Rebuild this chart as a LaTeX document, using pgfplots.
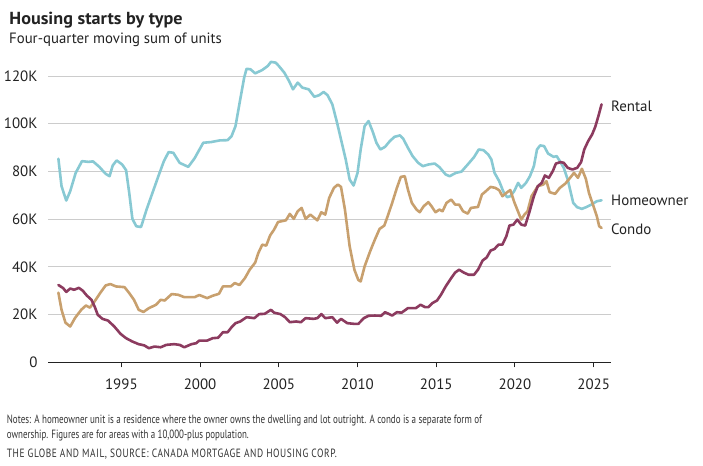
\documentclass[border=0pt]{standalone}
\usepackage{fontspec}
\setmainfont{PT Sans}
\usepackage{graphicx}
\usepackage{pgfplots}
\pgfplotsset{compat=1.18}
\definecolor{homec}{HTML}{88C9D3}
\definecolor{condoc}{HTML}{C8A06E}
\definecolor{rentc}{HTML}{8C3B5F}
\definecolor{txt}{HTML}{222222}
\definecolor{note}{HTML}{333333}
\definecolor{gridc}{HTML}{CCCCCC}
\begin{document}
\begin{tikzpicture}[x=1bp,y=1bp]
\path[use as bounding box] (0,0) rectangle (703,466);
\begin{axis}[
  at={(48bp,103.7bp)}, anchor=south west,
  scale only axis, width=563bp, height=305.4bp,
  xmin=1990.34, xmax=2026.1, ymin=0, ymax=128,
  axis x line=bottom, axis y line=left,
  y axis line style={draw=none},
  x axis line style={-, draw=txt, line width=1.1bp},
  xtick={1995,2000,2005,2010,2015,2020,2025},
  xticklabels={1995,2000,2005,2010,2015,2020,2025},
  ytick={0,20,40,60,80,100,120},
  yticklabels={0,20K,40K,60K,80K,100K,120K},
  ymajorgrids, major grid style={gridc, line width=0.9bp},
  ytick style={draw=none},
  xtick style={draw=txt, line width=1bp},
  tick align=outside, major tick length=5bp,
  ticklabel style={font=\fontsize{15}{18}\selectfont, text=txt},
  yticklabel style={anchor=east, inner sep=0pt, xshift=-5.3bp},
  xticklabel style={anchor=north, inner sep=0pt, yshift=-11bp},
  clip=false,
  every axis plot/.append style={line width=2.6bp, line join=round, line cap=round, no marks},
]
\addplot[homec] coordinates {
(1991.0,85.3) (1991.2,73.8) (1991.5,67.8) (1991.75,71.7) (1992.1,79.4) (1992.5,84.3) (1992.9,84.0) (1993.2,84.2) (1993.6,81.9) (1994.0,79.0) (1994.25,78.0) (1994.45,82.5) (1994.7,84.6) (1995.05,82.9) (1995.3,80.5) (1995.5,71.0) (1995.7,60.1) (1995.95,57.0) (1996.25,56.7) (1996.6,64.0) (1996.9,69.6) (1997.35,78.0) (1997.7,84.3) (1998.0,88.1) (1998.3,87.8) (1998.7,83.6) (1999.25,81.9) (1999.65,85.5) (2000.2,92.0) (2000.7,92.3) (2001.25,93.0) (2001.75,93.1) (2002.0,94.8) (2002.25,99.0) (2002.55,110.2) (2002.8,119.3) (2002.95,123.0) (2003.2,122.8) (2003.5,121.1) (2003.95,122.5) (2004.3,124.2) (2004.5,125.9) (2004.8,125.6) (2005.0,124.2) (2005.35,121.4) (2005.65,117.9) (2005.9,114.4) (2006.2,117.2) (2006.5,115.1) (2006.9,114.4) (2007.25,111.3) (2007.55,111.9) (2007.85,113.3) (2008.1,111.9) (2008.4,108.1) (2008.7,100.4) (2009.05,90.6) (2009.25,85.0) (2009.5,76.6) (2009.75,74.1) (2010.0,79.4) (2010.2,89.2) (2010.45,99.0) (2010.7,101.1) (2010.95,96.9) (2011.2,92.0) (2011.45,89.2) (2011.75,90.3) (2012.05,92.7) (2012.35,94.5) (2012.7,95.1) (2012.9,93.7) (2013.2,89.9) (2013.5,86.4) (2013.85,83.6) (2014.15,82.2) (2014.5,82.9) (2014.9,83.3) (2015.2,81.8) (2015.6,78.7) (2015.85,78.0) (2016.25,79.4) (2016.6,79.9) (2017.0,82.9) (2017.4,86.0) (2017.7,89.2) (2018.0,88.9) (2018.3,87.1) (2018.5,85.0) (2018.7,79.4) (2019.0,75.9) (2019.25,71.7) (2019.5,69.2) (2019.7,69.6) (2019.95,71.7) (2020.2,75.2) (2020.4,73.1) (2020.7,75.2) (2020.95,78.0) (2021.2,82.2) (2021.4,89.2) (2021.6,90.9) (2021.85,90.6) (2022.1,87.5) (2022.45,86.1) (2022.65,86.4) (2022.85,84.3) (2023.1,81.5) (2023.35,76.6) (2023.55,71.0) (2023.7,66.8) (2023.95,65.0) (2024.25,64.3) (2024.55,65.1) (2024.85,66.1) (2025.2,67.5) (2025.5,67.9)
};
\addplot[condoc] coordinates {
(1991.0,29.2) (1991.2,22.0) (1991.45,16.6) (1991.75,15.0) (1992.05,18.5) (1992.45,22.0) (1992.75,23.8) (1993.0,22.9) (1993.3,25.5) (1993.65,29.0) (1994.0,32.2) (1994.3,32.8) (1994.65,31.8) (1995.2,31.5) (1995.5,29.0) (1995.8,26.2) (1996.1,22.0) (1996.4,21.1) (1996.75,22.7) (1997.2,24.1) (1997.5,26.2) (1997.75,25.9) (1998.2,28.6) (1998.6,28.3) (1999.0,27.3) (1999.65,27.3) (1999.95,28.2) (2000.45,26.9) (2000.8,27.9) (2001.2,28.7) (2001.45,31.8) (2001.95,31.8) (2002.2,33.2) (2002.5,32.4) (2002.85,35.3) (2003.15,38.8) (2003.5,41.8) (2003.7,45.8) (2003.95,49.3) (2004.2,48.9) (2004.45,53.2) (2004.7,55.6) (2004.95,58.8) (2005.45,59.5) (2005.7,62.2) (2005.95,60.1) (2006.2,63.3) (2006.45,64.7) (2006.7,60.1) (2007.0,61.9) (2007.45,59.5) (2007.7,62.9) (2007.95,61.9) (2008.2,68.9) (2008.5,73.1) (2008.75,74.5) (2008.95,73.5) (2009.2,64.0) (2009.5,48.6) (2009.8,38.8) (2010.05,34.5) (2010.2,33.9) (2010.45,40.2) (2010.8,46.5) (2011.1,51.4) (2011.4,55.9) (2011.7,57.3) (2011.95,61.9) (2012.2,66.8) (2012.5,73.1) (2012.75,77.7) (2013.0,78.0) (2013.2,72.4) (2013.45,66.8) (2013.75,64.0) (2013.95,62.9) (2014.2,65.4) (2014.5,67.1) (2014.7,65.4) (2014.95,62.9) (2015.2,64.0) (2015.4,63.3) (2015.65,66.8) (2015.95,68.2) (2016.2,66.1) (2016.45,66.1) (2016.7,63.3) (2017.0,62.3) (2017.2,64.7) (2017.65,65.1) (2017.9,70.3) (2018.15,71.7) (2018.45,73.5) (2018.75,73.1) (2019.0,72.1) (2019.2,69.6) (2019.45,71.0) (2019.7,72.2) (2019.95,67.2) (2020.4,59.8) (2020.6,61.9) (2020.8,63.3) (2021.05,69.6) (2021.45,73.8) (2021.8,74.5) (2022.0,75.9) (2022.2,71.3) (2022.55,70.6) (2022.85,73.1) (2023.2,74.9) (2023.5,77.3) (2023.75,79.4) (2024.0,77.3) (2024.25,81.1) (2024.5,76.9) (2024.7,71.0) (2024.95,66.1) (2025.2,61.2) (2025.35,57.0) (2025.5,56.3)
};
\addplot[rentc] coordinates {
(1991.0,32.4) (1991.3,31.1) (1991.5,29.5) (1991.75,30.9) (1992.0,30.4) (1992.3,31.2) (1992.55,30.0) (1992.8,28.0) (1993.1,26.2) (1993.3,23.4) (1993.5,19.9) (1993.8,18.2) (1994.15,17.5) (1994.55,15.0) (1994.95,11.9) (1995.3,10.1) (1995.7,8.7) (1996.1,7.6) (1996.45,7.1) (1996.75,5.9) (1997.1,6.6) (1997.5,6.3) (1997.85,7.3) (1998.35,7.6) (1998.7,7.3) (1999.0,6.3) (1999.45,7.6) (1999.75,8.0) (1999.95,9.1) (2000.45,9.1) (2000.8,10.1) (2001.15,10.3) (2001.45,12.6) (2001.75,12.6) (2002.0,14.7) (2002.25,16.4) (2002.55,17.1) (2002.95,18.9) (2003.45,18.5) (2003.75,20.2) (2004.1,20.3) (2004.5,22.0) (2004.7,20.8) (2005.1,20.2) (2005.4,18.9) (2005.7,16.8) (2006.1,17.1) (2006.4,16.8) (2006.7,18.5) (2007.2,18.2) (2007.45,18.5) (2007.7,20.2) (2007.95,18.5) (2008.4,18.9) (2008.7,16.6) (2008.95,18.2) (2009.35,16.4) (2009.8,16.1) (2010.05,16.1) (2010.4,18.5) (2010.7,19.5) (2011.1,19.6) (2011.5,19.5) (2011.75,21.0) (2012.2,19.6) (2012.5,21.0) (2012.8,20.8) (2013.2,22.7) (2013.7,22.7) (2014.0,24.1) (2014.3,23.1) (2014.5,23.1) (2014.75,24.8) (2015.05,25.9) (2015.3,28.3) (2015.6,31.8) (2015.95,35.3) (2016.2,37.6) (2016.45,38.8) (2016.75,37.6) (2017.05,36.7) (2017.4,36.7) (2017.65,38.8) (2017.95,42.7) (2018.2,43.9) (2018.45,46.8) (2018.7,47.5) (2018.95,49.3) (2019.2,49.3) (2019.45,52.8) (2019.65,57.3) (2019.9,57.7) (2020.15,59.8) (2020.4,57.7) (2020.65,57.3) (2020.9,62.6) (2021.2,69.6) (2021.45,73.8) (2021.7,75.2) (2021.9,78.3) (2022.15,77.3) (2022.4,80.1) (2022.6,83.3) (2022.9,83.9) (2023.1,83.6) (2023.35,81.5) (2023.65,80.8) (2023.95,81.5) (2024.2,83.9) (2024.4,89.2) (2024.65,92.7) (2024.9,95.5) (2025.1,98.7) (2025.3,103.2) (2025.5,108.1)
};
\end{axis}
\begin{scope}[every node/.style={inner sep=0pt, text=txt}]
\node[anchor=base west] at (9.3,441) {\resizebox{173bp}{\height}{\fontsize{17.5}{20}\selectfont\bfseries Housing starts by type}};
\node[anchor=base west] at (9,422.3) {\resizebox{212.6bp}{\height}{\fontsize{15}{18}\selectfont Four-quarter moving sum of units}};
\node[anchor=west] at (611,360) {\fontsize{15}{18}\selectfont Rental};
\node[anchor=west] at (611,265.3) {\fontsize{15}{18}\selectfont Homeowner};
\node[anchor=west] at (611,237) {\fontsize{15}{18}\selectfont Condo};
\node[anchor=base west, text=note] at (6.7,42) {\resizebox{475bp}{\height}{\fontsize{12}{14}\selectfont Notes: A homeowner unit is a residence where the owner owns the dwelling and lot outright. A condo is a separate form of}};
\node[anchor=base west, text=note] at (6.7,27) {\resizebox{242bp}{\height}{\fontsize{12}{14}\selectfont ownership. Figures are for areas with a 10,000-plus population.}};
\node[anchor=base west, text=note] at (6.7,8.7) {\resizebox{330bp}{\height}{\fontsize{12}{14}\selectfont\addfontfeature{LetterSpace=6}THE GLOBE AND MAIL, SOURCE: CANADA MORTGAGE AND HOUSING CORP.}};
\end{scope}
\end{tikzpicture}
\end{document}
